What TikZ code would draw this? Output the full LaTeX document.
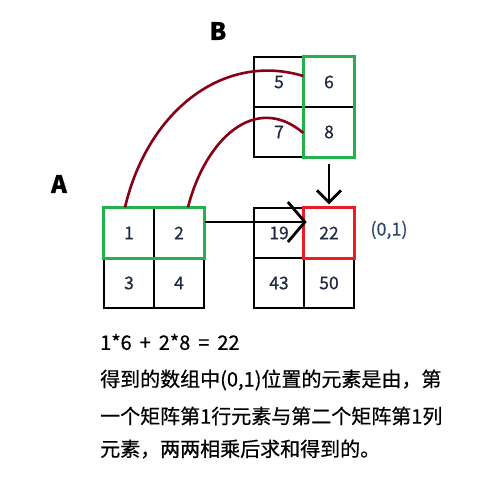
\documentclass[tikz,border=0pt]{standalone}
\usepackage{fontspec}
\setmainfont{Noto Sans CJK SC}[FakeBold=0.6]
\usetikzlibrary{arrows.meta,calc}
\definecolor{numc}{HTML}{1F2A40}
\definecolor{coordc}{HTML}{2E4A6E}
\definecolor{pgreen}{HTML}{22B14C}
\definecolor{pred}{HTML}{ED1C24}
\definecolor{pdark}{HTML}{880015}
\tikzset{
  cell/.style={draw=black, line width=1.4pt, minimum width=50pt, minimum height=50pt, inner sep=0pt, text=numc, font=\fontsize{17.5}{17.5}\selectfont},
  mlabel/.style={font=\fontsize{24}{24}\selectfont\bfseries, text=black},
  greenbox/.style={draw=pgreen, line width=3pt},
  redbox/.style={draw=pred, line width=3pt},
  curve/.style={draw=pdark, line width=2.6pt},
  bigarrow/.style={draw=black, line width=2.8pt},
  body/.style={anchor=west, inner sep=0pt, text=black, font=\fontsize{20}{20}\selectfont}
}
\begin{document}
\begin{tikzpicture}[x=1pt,y=-1pt]
\useasboundingbox (0,0) rectangle (501,480);
% labels
\node[mlabel] (labB) at (218,31) {B};
\node[mlabel] (labA) at (59,184) {A};
% matrix B
\node[cell] (b11) at (279,82) {5};
\node[cell] (b12) at (329,82) {6};
\node[cell] (b21) at (279,132) {7};
\node[cell] (b22) at (329,132) {8};
% matrix A
\node[cell] (a11) at (129,233) {1};
\node[cell] (a12) at (179,233) {2};
\node[cell] (a21) at (129,283) {3};
\node[cell] (a22) at (179,283) {4};
% matrix C
\node[cell] (c11) at (279,233) {19};
\node[cell] (c12) at (329,233) {22};
\node[cell] (c21) at (279,283) {43};
\node[cell] (c22) at (329,283) {50};
% highlight boxes
\draw[greenbox] (b12.north west) rectangle (b22.south east);
\draw[greenbox] (a11.north west) rectangle (a12.south east);
\draw[redbox] (c12.north west) rectangle (c12.south east);
% coordinate label
\node[text=coordc, font=\fontsize{18}{18}\selectfont] (pos) at (389,230) {(0,1)};
% curves
\draw[curve] ([xshift=-4pt]a11.north) .. controls (148,110) and (224,52) .. ([yshift=6pt]b12.west);
\draw[curve] ([xshift=9pt]a12.north) .. controls (205,140) and (255,92) .. ([yshift=-1pt]b22.west);
% arrows
\draw[bigarrow, -{Straight Barb[length=17pt,width=40pt,line width=2.8pt]}] (a12.east |- 0,222) -- ([xshift=2pt]c11.east |- 0,222);
\draw[bigarrow, -{Straight Barb[length=12pt,width=24pt,line width=2.8pt]}] ([yshift=-6pt]b22.south) -- ([yshift=3pt]c12.north);
% text
\node[body] (eq) at (100,342) {1*6\hspace{3.5pt} +\hspace{3.5pt} 2*8\hspace{3.5pt} =\hspace{3.5pt} 22};
\node[body] (l1) at (100,380) {得到的数组中(0,1)位置的元素是由，第};
\node[body] (l2) at (100,416) {一个矩阵第1行元素与第二个矩阵第1列};
\node[body] (l3) at (100,449) {元素，两两相乘后求和得到的。};
\end{tikzpicture}
\end{document}
